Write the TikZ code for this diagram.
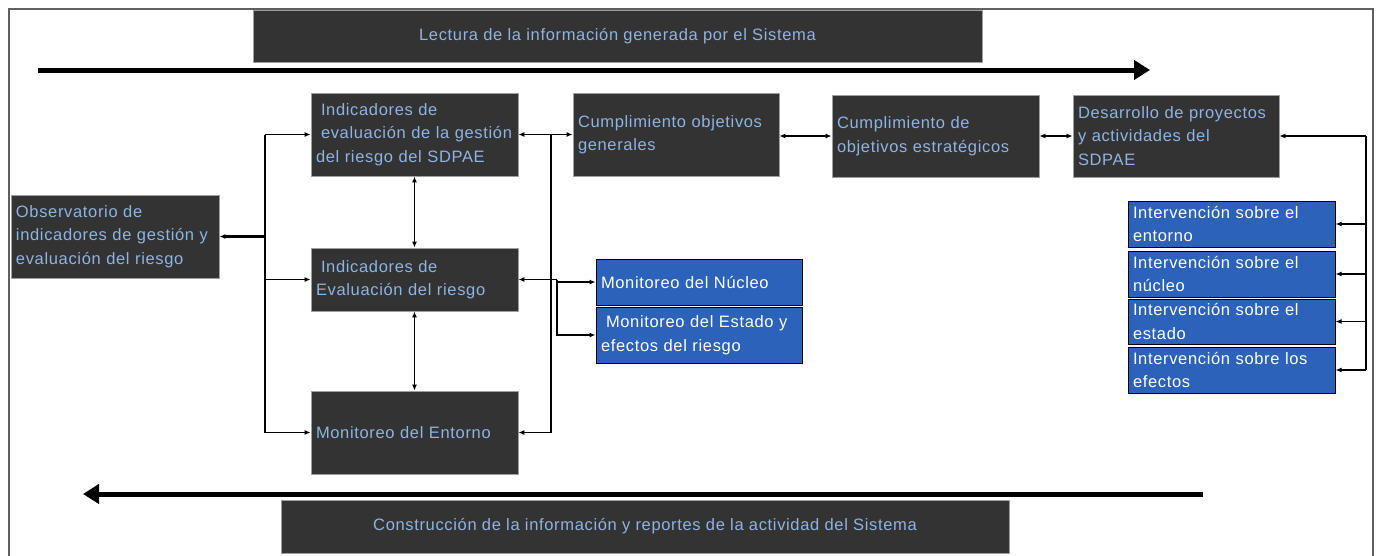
\documentclass[tikz,border=0pt]{standalone}
\usepackage{fontspec}
\usepackage{xcolor}
\usepackage{tikz}
\usetikzlibrary{arrows.meta}
\usetikzlibrary{positioning}

\newfontfamily\diagfont{Liberation Sans}[LetterSpace=4]
\newcommand{\boxfont}{\diagfont\fontsize{16.5}{23.5}\selectfont}
\newcommand{\ind}{\hspace*{5pt}}

\definecolor{boxgray}{RGB}{51,51,51}
\definecolor{txtblue}{RGB}{141,180,226}
\definecolor{boxblue}{RGB}{44,98,186}
\definecolor{framegray}{RGB}{96,96,96}

\tikzset{
  dbox/.style={draw=gray!75, line width=0.8pt, fill=boxgray, text=txtblue,
    align=left, inner xsep=5pt, inner ysep=2pt, font=\boxfont},
  bbox/.style={draw=black, line width=1pt, fill=boxblue, text=white,
    align=left, inner xsep=5pt, inner ysep=1pt, font=\boxfont},
  wire/.style={line width=1.4pt},
  con/.style={line width=1.4pt, -{Latex[length=6pt,width=5pt]}},
  bicon/.style={line width=1.4pt, {Latex[length=6pt,width=5pt]}-{Latex[length=6pt,width=5pt]}},
  flow/.style={line width=5pt, -{Triangle[length=16pt,width=19pt]}}
}

\begin{document}
\begin{tikzpicture}[x=1pt,y=-1pt]
\useasboundingbox (0,0) rectangle (1377,555);
\draw[framegray, line width=2.5pt] (9,560) -- (9,9) -- (1373,9) -- (1373,560);

% banners
\node[dbox, align=center, minimum width=729, minimum height=52] (lect) at (617.5,36)
  {Lectura de la información generada por el Sistema};
\node[dbox, align=center, minimum width=728, minimum height=53] (cons) at (645,526.5)
  {Construcción de la información y reportes de la actividad del Sistema};

% boxes
\node[dbox, text width=197, minimum height=83] (ind1) at (414.5,134.5)
  {\ind Indicadores de\\\ind evaluación de la gestión\\del riesgo del SDPAE};
\node[dbox, text width=196, minimum height=83] (cgen) at (676,134.5)
  {Cumplimiento objetivos\\generales};
\node[dbox, text width=197, minimum height=82] (cest) at (935.5,136)
  {Cumplimiento de\\objetivos estratégicos};
\node[dbox, text width=196, minimum height=82] (des) at (1176,136)
  {Desarrollo de proyectos\\y actividades del\\SDPAE};
\node[dbox, text width=198, minimum height=83] (obs) at (115,236.5)
  {Observatorio de\\indicadores de gestión y\\evaluación del riesgo};
\node[dbox, text width=197, minimum height=63] (ind2) at (414.5,279.5)
  {\ind Indicadores de\\Evaluación del riesgo};
\node[dbox, text width=197, minimum height=83] (ent) at (414.5,432.5)
  {Monitoreo del Entorno};
\node[bbox, text width=196, minimum height=46] (monN) at (699,282)
  {Monitoreo del Núcleo};
\node[bbox, text width=196, minimum height=56] (monE) at (699,335)
  {\ind Monitoreo del Estado y\\efectos del riesgo};
\node[bbox, text width=197, minimum height=46] (int1) at (1231.5,224)
  {Intervención sobre el\\entorno};
\node[bbox, text width=197, minimum height=46] (int2) at (1231.5,274)
  {Intervención sobre el\\núcleo};
\node[bbox, text width=197, minimum height=45] (int3) at (1231.5,321.5)
  {Intervención sobre el\\estado};
\node[bbox, text width=197, minimum height=46] (int4) at (1231.5,370)
  {Intervención sobre los\\efectos};

% flows
\coordinate (lectA) at (38,70);
\coordinate (lectB) at (1150,70);
\coordinate (consA) at (1203,494);
\coordinate (consB) at (83,494);
\draw[flow] (lectA) -- (lectB);
\draw[flow] (consA) -- (consB);

% buses
\coordinate (lbus) at (265,0);
\coordinate (rbus) at (551,0);
\coordinate (bbus) at (557,0);
\coordinate (ibus) at (1366,0);

\draw[wire] (lbus |- ind1.west) -- (lbus |- ent.west);
\draw[con] (lbus |- ind1.west) -- (ind1.west);
\draw[con] (lbus |- ind2.west) -- (ind2.west);
\draw[con] (lbus |- ent.west) -- (ent.west);
\draw[con, line width=2.4pt] (lbus |- obs.east) -- (obs.east);

\draw[bicon] (ind1.south) -- (ind2.north);
\draw[bicon] (ind2.south) -- (ent.north);
\draw[bicon] (ind1.east) -- (cgen.west);

\draw[wire] (rbus |- ind1.east) -- (rbus |- ent.east);
\draw[con] (rbus |- ind2.east) -- (ind2.east);
\draw[con] (rbus |- ent.east) -- (ent.east);
\draw[wire] (rbus |- ind2.east) -- (bbus |- ind2.east);
\draw[con] (bbus |- ind2.east) |- (monN.west);
\draw[con] (bbus |- ind2.east) |- (monE.west);

\draw[bicon] (cgen.east |- cest.west) -- (cest.west);
\draw[bicon] (cest.east) -- (des.west);

\draw[wire] (ibus |- des.east) -- (ibus |- int4.east);
\draw[con] (ibus |- des.east) -- (des.east);
\foreach \i in {int1,int2,int3,int4}
  \draw[con] (ibus |- \i.east) -- (\i.east);
\end{tikzpicture}
\end{document}
